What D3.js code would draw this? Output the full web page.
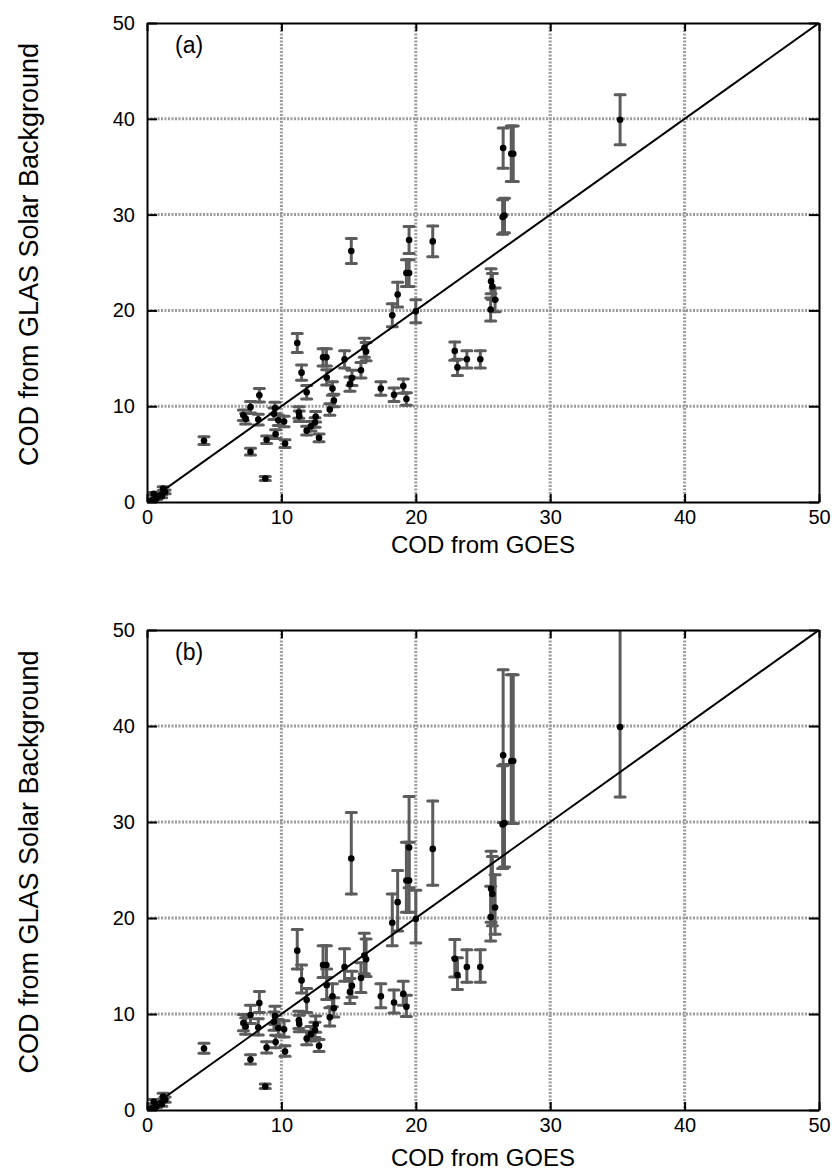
<!DOCTYPE html>
<html>
<head>
<meta charset="utf-8">
<script src="https://cdn.jsdelivr.net/npm/d3@7"></script>
<style>
  html, body { margin: 0; padding: 0; background: #fff; }
  svg { display: block; }
  text { font-family: "Liberation Sans", Arial, sans-serif; fill: #000; }
</style>
</head>
<body>
<svg id="chart" width="835" height="1176"></svg>
<script>
// ---- data ----
const codGOES = [0.3, 0.5, 0.7, 1.1, 1.2, 1.35, 4.24, 7.7, 8.8, 8.36, 7.7, 7.17, 7.34, 8.28, 9.52, 9.45, 9.77, 10.2, 8.9, 9.57,
  10.27, 11.3, 11.33, 11.88, 12.2, 12.55, 12.5, 12.8, 11.88, 13.6, 13.9, 13.8, 15.1, 15.25, 15.2, 11.18, 11.5, 13.1, 13.35, 14.7,
  13.37, 15.92, 16.17, 16.3, 17.4, 18.38, 19.07, 19.3, 18.25, 18.65, 19.3, 19.5, 19.5, 20.0, 21.26, 22.9, 23.1, 23.8, 24.8, 25.6,
  25.7, 25.9, 25.57, 26.46, 26.6, 26.5, 27.1, 27.25, 35.2];
const codGLAS = [0.15, 0.85, 0.35, 0.6, 1.4, 1.05, 6.4, 5.25, 2.45, 11.15, 9.9, 9.06, 8.7, 8.6, 9.8, 9.2, 8.54, 8.4, 6.5, 7.08,
  6.1, 9.34, 8.96, 7.45, 7.9, 8.9, 8.3, 6.7, 11.45, 9.65, 10.6, 11.85, 12.3, 12.95, 26.2, 16.6, 13.5, 15.1, 15.1, 14.9,
  13.0, 13.75, 16.1, 15.7, 11.84, 11.2, 12.1, 10.75, 19.5, 21.65, 23.9, 23.9, 27.35, 19.9, 27.2, 15.75, 14.05, 14.9, 14.9, 23.05,
  22.5, 21.1, 20.1, 29.75, 29.9, 36.95, 36.35, 36.35, 39.9];
// panel (a): symmetric error
const errA = [0.1, 0.15, 0.1, 0.15, 0.2, 0.2, 0.4, 0.35, 0.2, 0.7, 0.6, 0.55, 0.55, 0.55, 0.6, 0.6, 0.55, 0.55, 0.4, 0.45,
  0.4, 0.6, 0.55, 0.45, 0.5, 0.55, 0.5, 0.4, 0.7, 0.6, 0.65, 0.7, 0.75, 0.8, 1.3, 1.0, 0.8, 0.9, 0.9, 0.9,
  0.8, 0.8, 1.0, 0.95, 0.7, 0.7, 0.75, 0.65, 1.2, 1.3, 1.4, 1.4, 1.4, 1.2, 1.6, 0.95, 0.85, 0.9, 0.9, 1.3,
  1.35, 1.25, 1.2, 1.8, 1.8, 2.1, 2.9, 2.9, 2.6];
// panel (b): lower and upper error
const errBLo = [0.1, 0.2, 0.1, 0.2, 0.25, 0.25, 0.5, 0.45, 0.2, 1.0, 0.9, 0.8, 0.8, 0.8, 0.9, 0.9, 0.8, 0.8, 0.55, 0.6,
  0.5, 0.85, 0.8, 0.65, 0.7, 0.8, 0.75, 0.6, 1.3, 0.9, 0.9, 1.1, 1.2, 1.2, 3.7, 1.9, 1.3, 1.3, 1.3, 1.5,
  1.5, 1.5, 1.9, 1.8, 1.2, 1.1, 1.2, 1.0, 2.4, 3.0, 3.3, 3.3, 4.2, 2.5, 3.8, 1.9, 1.5, 1.6, 1.6, 3.5,
  3.3, 2.8, 2.5, 4.6, 4.6, 7.0, 6.5, 6.5, 7.3];
const errBHi = [0.15, 0.25, 0.15, 0.25, 0.35, 0.3, 0.55, 0.5, 0.25, 1.2, 1.0, 0.9, 0.9, 0.9, 1.0, 1.0, 0.9, 0.9, 0.6, 0.7,
  0.6, 0.95, 0.9, 0.75, 0.8, 0.9, 0.85, 0.65, 1.2, 1.0, 1.1, 1.3, 1.4, 1.5, 4.8, 2.2, 1.6, 2.0, 2.0, 1.9,
  1.7, 1.6, 2.3, 2.1, 1.3, 1.3, 1.3, 1.2, 3.0, 3.3, 4.0, 4.0, 5.3, 3.0, 5.0, 2.0, 1.8, 1.8, 1.8, 3.9,
  3.9, 3.4, 3.2, 6.1, 6.1, 8.9, 9.0, 9.0, 11.0];
const tickValues = [0, 10, 20, 30, 40, 50];
const gridValues = [10, 20, 30, 40];
const panelLabels = ["(a)", "(b)"];
const xTitle = "COD from GOES";
const yTitle = "COD from GLAS Solar Background";

// ---- layout ----
const svg = d3.select("#chart");
const left = 147, right = 819;
const panels = [
  { top: 23, bottom: 502, titleY: 553, label: panelLabels[0], lo: codGLAS.map((v, i) => v - errA[i]), hi: codGLAS.map((v, i) => v + errA[i]) },
  { top: 630, bottom: 1110, titleY: 1166, label: panelLabels[1], lo: codGLAS.map((v, i) => v - errBLo[i]), hi: codGLAS.map((v, i) => v + errBHi[i]) }
];

panels.forEach((p, pi) => {
  const x = d3.scaleLinear().domain([0, 50]).range([left, right]);
  const y = d3.scaleLinear().domain([0, 50]).range([p.bottom, p.top]);
  const g = svg.append("g");
  const clipId = "clip" + pi;
  svg.append("clipPath").attr("id", clipId).append("rect")
    .attr("x", left).attr("y", p.top).attr("width", right - left).attr("height", p.bottom - p.top);

  // grid
  const grid = g.append("g").attr("stroke", "#9c9c9c").attr("stroke-width", 3).attr("stroke-dasharray", "2,1.5");
  grid.selectAll(".gv").data(gridValues).join("line")
    .attr("x1", d => x(d)).attr("x2", d => x(d)).attr("y1", p.top).attr("y2", p.bottom);
  grid.selectAll(".gh").data(gridValues).join("line")
    .attr("y1", d => y(d)).attr("y2", d => y(d)).attr("x1", left).attr("x2", right);

  const plot = g.append("g").attr("clip-path", `url(#${clipId})`);
  const idx = d3.range(codGOES.length);
  // error bars
  const eb = plot.append("g").attr("stroke", "#5c5c5c").attr("stroke-width", 3).attr("stroke-linecap", "round");
  eb.selectAll(".v").data(idx).join("line")
    .attr("x1", i => x(codGOES[i])).attr("x2", i => x(codGOES[i]))
    .attr("y1", i => y(p.lo[i])).attr("y2", i => y(p.hi[i]));
  eb.selectAll(".cl").data(idx).join("line")
    .attr("x1", i => x(codGOES[i]) - 5).attr("x2", i => x(codGOES[i]) + 5)
    .attr("y1", i => y(p.lo[i])).attr("y2", i => y(p.lo[i]));
  eb.selectAll(".ch").data(idx).join("line")
    .attr("x1", i => x(codGOES[i]) - 5).attr("x2", i => x(codGOES[i]) + 5)
    .attr("y1", i => y(p.hi[i])).attr("y2", i => y(p.hi[i]));

  // 1:1 line
  plot.append("line").attr("x1", x(0)).attr("y1", y(0)).attr("x2", x(50)).attr("y2", y(50))
    .attr("stroke", "#000").attr("stroke-width", 2);

  // points
  plot.append("g").selectAll("circle").data(idx).join("circle")
    .attr("cx", i => x(codGOES[i])).attr("cy", i => y(codGLAS[i])).attr("r", 3.3).attr("fill", "#000");

  // axes with inward ticks
  const axB = g.append("g").attr("transform", `translate(0,${p.bottom})`)
    .call(d3.axisBottom(x).tickValues(tickValues).tickSizeInner(-8).tickSizeOuter(0).tickPadding(8));
  const axT = g.append("g").attr("transform", `translate(0,${p.top})`)
    .call(d3.axisTop(x).tickValues(tickValues).tickSizeInner(-8).tickSizeOuter(0).tickFormat(""));
  const axL = g.append("g").attr("transform", `translate(${left},0)`)
    .call(d3.axisLeft(y).tickValues(tickValues).tickSizeInner(-10).tickSizeOuter(0).tickPadding(12));
  const axR = g.append("g").attr("transform", `translate(${right},0)`)
    .call(d3.axisRight(y).tickValues(tickValues).tickSizeInner(-10).tickSizeOuter(0).tickFormat(""));
  [axB, axT, axL, axR].forEach(a => {
    a.select(".domain").attr("stroke", "#000").attr("stroke-width", 2);
    a.selectAll(".tick line").attr("stroke", "#000").attr("stroke-width", 2);
    a.selectAll(".tick text").attr("font-size", 20).attr("font-family", "Liberation Sans, Arial, sans-serif").attr("fill", "#000");
  });

  // panel label
  g.append("text").attr("x", 175).attr("y", p.top + 30).attr("font-size", 23).text(p.label);

  // axis titles
  g.append("text").attr("x", (left + right) / 2).attr("y", p.titleY)
    .attr("text-anchor", "middle").attr("font-size", 24).text(xTitle);
  g.append("text").attr("transform", `translate(38,${(p.top + p.bottom) / 2 - 8}) rotate(-90)`)
    .attr("text-anchor", "middle").attr("font-size", 27).text(yTitle);
});
</script>
</body>
</html>
